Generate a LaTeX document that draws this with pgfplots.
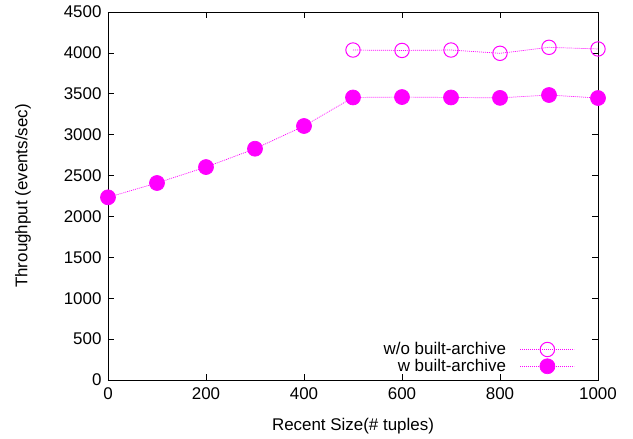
\documentclass[border=0pt]{standalone}
\usepackage{pgfplots}
\pgfplotsset{compat=1.18}
\usepackage{fontspec}
\setmainfont{Liberation Sans}
\definecolor{gpmag}{RGB}{255,0,255}

\begin{document}
\begin{tikzpicture}
\begin{axis}[
    scale only axis,
    width=490bp,
    height=368bp,
    xmin=0, xmax=1000,
    ymin=0, ymax=4500,
    xtick={0,200,...,1000},
    ytick={0,500,...,4500},
    tick align=inside,
    major tick length=6bp,
    axis line style={line width=0.8bp},
    tick style={line width=0.6bp, black},
    ticklabel style={font=\fontsize{17}{19}\selectfont},
    xticklabel style={yshift=-4bp},
    yticklabel style={xshift=-3bp},
    /pgf/number format/assume math mode=true,
    /pgf/number format/1000 sep={},
    xlabel={Recent Size(\# tuples)},
    ylabel={Throughput (events/sec)},
    every axis x label/.style={at={(axis description cs:0.5,0)},
        yshift=-46bp, anchor=center, font=\fontsize{17}{19}\selectfont},
    every axis y label/.style={at={(axis description cs:0,0.5)},
        xshift=-85bp, rotate=90, anchor=center, font=\fontsize{17}{19}\selectfont},
    legend plot pos=right,
    legend cell align=right,
    legend style={at={(rel axis cs:0.955,0.01)}, anchor=south east,
        draw=none, fill=none, font=\fontsize{17}{19}\selectfont,
        row sep=-1bp, inner sep=1bp,
        /tikz/every odd column/.append style={column sep=12bp}},
    legend image code/.code={\draw[mark repeat=2,mark phase=2]
        plot coordinates {(0bp,0bp) (27bp,0bp) (54bp,0bp)};},
]
\addplot[gpmag, line width=0.7bp, dash pattern=on 1bp off 1bp,
    mark=o, mark size=7.2bp, mark options={solid, line width=1bp}]
coordinates {(500,4035) (600,4030) (700,4035) (800,3995) (900,4068) (1000,4048)};
\addlegendentry{w/o built-archive}
\addplot[gpmag, line width=0.7bp, dash pattern=on 1bp off 1bp,
    mark=*, mark size=7.5bp, mark options={solid, fill=gpmag}]
coordinates {(0,2234) (100,2409) (200,2604) (300,2828) (400,3106) (500,3455)
    (600,3460) (700,3455) (800,3450) (900,3485) (1000,3448)};
\addlegendentry{w built-archive}
\end{axis}
\useasboundingbox (-108bp,-59bp) rectangle (525bp,380bp);
\end{tikzpicture}
\end{document}
